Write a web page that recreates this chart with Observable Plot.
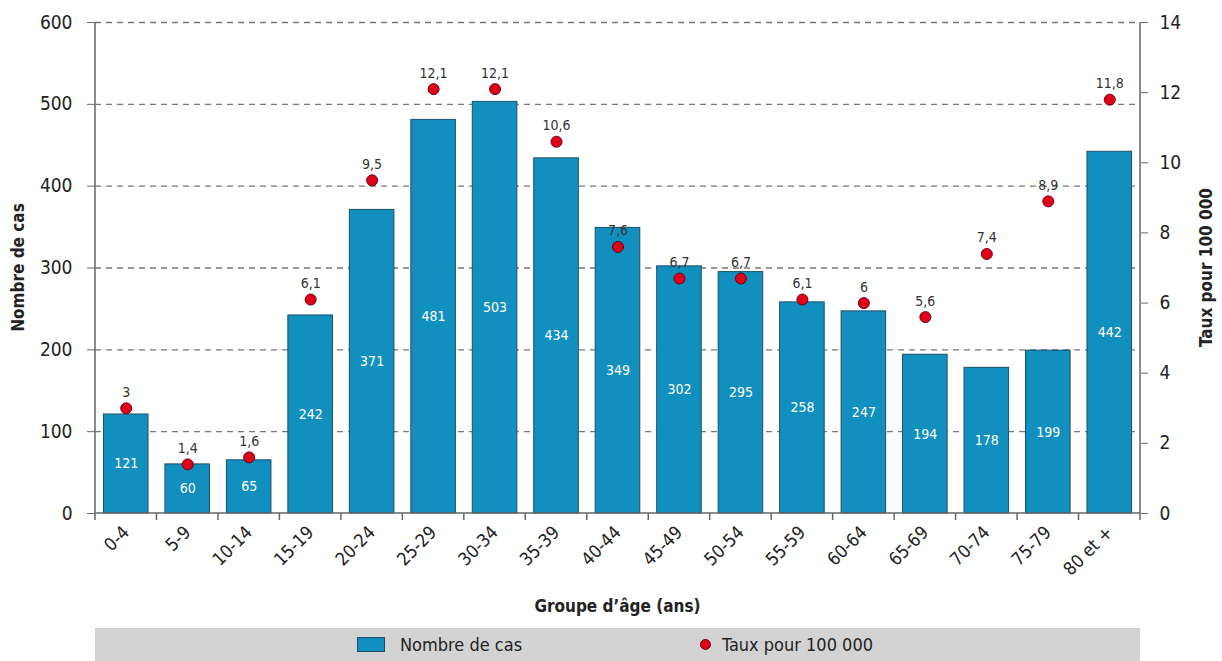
<!DOCTYPE html>
<html><head><meta charset="utf-8">
<script src="https://cdn.jsdelivr.net/npm/d3@7"></script>
<script src="https://cdn.jsdelivr.net/npm/@observablehq/plot@0.6"></script>
<style>
body{margin:0;background:#fff;font-family:"Liberation Sans Narrow","DejaVu Sans Condensed",sans-serif;font-stretch:condensed;}
#chart{height:620px;}
#legend{position:relative;margin-left:95px;width:1045px;height:33px;margin-top:8px;background:#d3d3d3;color:#222;font-size:18px;}
#legend .sw{position:absolute;left:262px;top:9px;width:28px;height:15px;background:#1190c0;border:1px solid #1d4f66;box-sizing:border-box;}
#legend .t1{position:absolute;left:305px;top:6px;}
#legend .dot{position:absolute;left:605px;top:11px;width:11px;height:11px;border-radius:50%;background:#e1001a;border:1px solid #6b0010;box-sizing:border-box;}
#legend .t2{position:absolute;left:627px;top:6px;}
</style></head><body>
<div id="chart"></div>
<div id="legend"><div class="sw"></div><span class="t1">Nombre de cas</span><div class="dot"></div><span class="t2">Taux pour 100 000</span></div>
<script>
const groups = ["0-4","5-9","10-14","15-19","20-24","25-29","30-34","35-39","40-44","45-49","50-54","55-59","60-64","65-69","70-74","75-79","80 et +"];
const cases = [121,60,65,242,371,481,503,434,349,302,295,258,247,194,178,199,442];
const rates = [3,1.4,1.6,6.1,9.5,12.1,12.1,10.6,7.6,6.7,6.7,6.1,6,5.6,7.4,8.9,11.8];
const countTicks = [0,100,200,300,400,500,600];
const rateTicks = [0,2,4,6,8,10,12,14];
const countMax = 600, rateMax = 14;

const data = groups.map((g,i)=>({group:g, cases:cases[i], rate:rates[i], rateY: rates[i]*countMax/rateMax}));
const fmt = v => String(v).replace(".", ",");
const font = '"Liberation Sans Narrow","DejaVu Sans Condensed",sans-serif';

const decor = (index, scales, values, dim) => {
  const {width, height, marginLeft, marginRight, marginTop, marginBottom} = dim;
  const x0 = marginLeft, x1 = width - marginRight, yb = height - marginBottom, yt = marginTop;
  const g = d3.create("svg:g").attr("stroke","#666").attr("stroke-width",1.5);
  const xs = groups.map(c => scales.x(c));
  const step = xs[1]-xs[0];
  const offset = step*0.1375;
  g.append("line").attr("x1",x0).attr("x2",x0).attr("y1",yt).attr("y2",yb+7);
  g.append("line").attr("x1",x1).attr("x2",x1).attr("y1",yt).attr("y2",yb+7);
  g.append("line").attr("x1",x0).attr("x2",x1).attr("y1",yb).attr("y2",yb);
  xs.slice(1).forEach(x => g.append("line").attr("x1",x-offset).attr("x2",x-offset).attr("y1",yb).attr("y2",yb+7));
  const t = g.append("g").attr("stroke","none").attr("fill","#222").attr("font-weight","bold").attr("font-size",17).attr("font-family",font).attr("text-anchor","middle");
  t.append("text").attr("transform",`translate(24,${(yt+yb)/2}) rotate(-90)`).text("Nombre de cas");
  t.append("text").attr("transform",`translate(${width-10},${(yt+yb)/2}) rotate(-90)`).text("Taux pour 100 000");
  t.append("text").attr("x",(x0+x1)/2).attr("y",height-8).text("Groupe d\u2019\u00e2ge (ans)");
  return g.node();
};

const chart = Plot.plot({
  width: 1222, height: 620,
  marginLeft: 95, marginRight: 82, marginTop: 22, marginBottom: 107,
  style: {fontFamily: font, background: "#fff", color: "#222"},
  x: {domain: groups, paddingInner: 0.275, paddingOuter: 0.1375, round: false, axis: null},
  y: {domain: [0, countMax], axis: null},
  marks: [
    Plot.ruleY(countTicks.filter(d=>d>0), {stroke:"#777", strokeDasharray:"6,5", strokeWidth:1.3}),
    Plot.barY(data, {x:"group", y:"cases", fill:"#1190c0", stroke:"#1d4f66", strokeWidth:1}),
    Plot.text(data, {x:"group", y: d=>d.cases/2, text: d=>String(d.cases), fill:"white", fontSize:14}),
    Plot.dot(data, {x:"group", y:"rateY", r:5.5, fill:"#e1001a", stroke:"#6b0010", strokeWidth:1}),
    Plot.text(data, {x:"group", y:"rateY", text: d=>fmt(d.rate), dy:-16, fill:"#333", fontSize:14}),
    Plot.axisY({anchor:"left", ticks: countTicks, tickSize:8, tickPadding:15, fontSize:19, stroke:"#666", fill:"#222", label:null}),
    Plot.axisY({anchor:"right", ticks: rateTicks.map(v=>v*countMax/rateMax), tickFormat: d => String(Math.round(d*rateMax/countMax)), tickSize:7, tickPadding:12, fontSize:19, stroke:"#666", fill:"#222", label:null}),
    Plot.axisX({tickSize:0, tickRotate:-45, tickPadding:16, fontSize:18, fill:"#222", label:null}),
    decor
  ]
});
document.getElementById("chart").appendChild(chart);
</script>
</body></html>
